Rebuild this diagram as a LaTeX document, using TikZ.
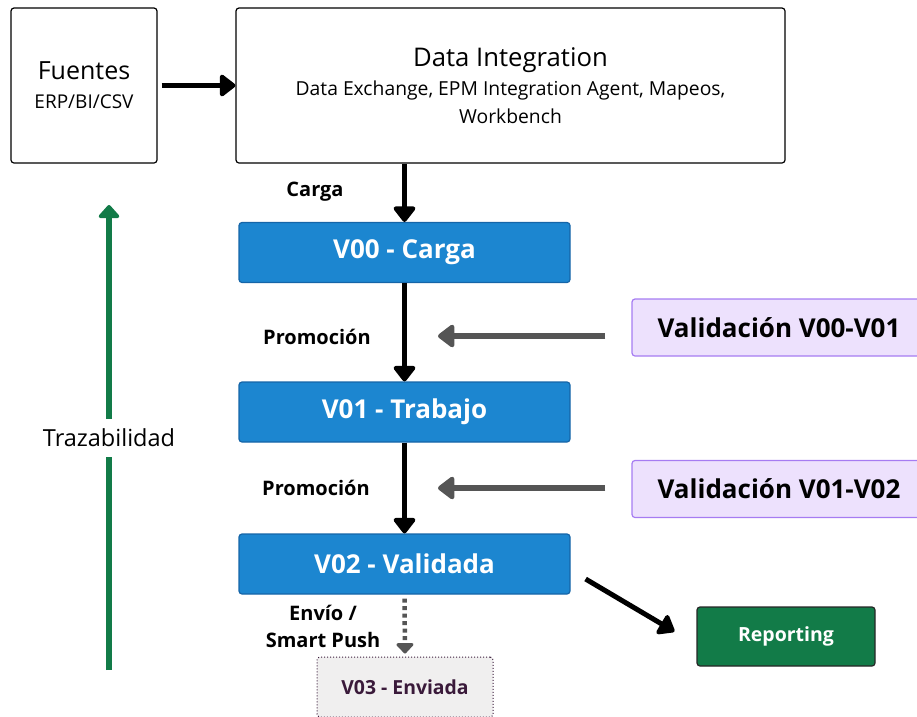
\documentclass[tikz,border=0pt]{standalone}
\usepackage{fontspec}
\setmainfont{Open Sans}
\usetikzlibrary{arrows.meta}

\definecolor{verblue}{HTML}{1C86D0}
\definecolor{verblueline}{HTML}{1565A8}
\definecolor{vallila}{HTML}{EDE1FD}
\definecolor{vallilaline}{HTML}{A67CF2}
\definecolor{repgreen}{HTML}{127B48}
\definecolor{arrgray}{HTML}{555555}
\definecolor{sentfill}{HTML}{F0EFEF}
\definecolor{sentline}{HTML}{3A1A3A}

\newcommand{\fsz}[1]{\fontsize{#1pt}{\fpeval{1.3*#1}pt}\selectfont}

\begin{document}
\begin{tikzpicture}[x=1pt,y=1pt,
        box/.style={draw,line width=1.2pt,rounded corners=3pt,align=center,inner sep=0pt},
        verbox/.style={box,fill=verblue,draw=verblueline,text=white,font=\fsz{26}\bfseries,
            minimum width=331pt,minimum height=60pt},
        valbox/.style={box,fill=vallila,draw=vallilaline,font=\fsz{26}\bfseries,
            minimum width=294pt,minimum height=57pt},
        flow/.style={line width=5pt,-{Triangle[round,length=17pt,width=25pt]}},
        back/.style={line width=6pt,draw=arrgray,-{Triangle[round,length=18pt,width=26pt]}},
        lbl/.style={font=\fsz{20}\bfseries,align=center}]

    \useasboundingbox (0,0) rectangle (917,-716);

    \node[box,minimum width=146pt,minimum height=155pt,font=\fontsize{19pt}{29pt}\selectfont] (fuentes) at (84,-85.5)
        {{\fsz{25}Fuentes}\\ERP/BI/CSV};
    \node[box,minimum width=549pt,minimum height=155pt,font=\fontsize{19.3pt}{27.5pt}\selectfont] (integ) at (510.5,-85.5)
        {{\fsz{25.7}Data Integration}\\[2pt]Data Exchange, EPM Integration Agent, Mapeos,\\Workbench};

    \node[verbox] (v00) at (404.5,-252.5) {V00 - Carga};
    \node[verbox] (v01) at (404.5,-412) {V01 - Trabajo};
    \node[verbox] (v02) at (404.5,-564) {V02 - Validada};

    \node[valbox] (val01) at (779,-327.5) {Validación V00-V01};
    \node[valbox] (val12) at (779,-489) {Validación V01-V02};

    \node[box,fill=repgreen,draw=black!85,text=white,font=\fsz{19.5}\bfseries,
        minimum width=178pt,minimum height=59pt] (report) at (786,-636.5) {Reporting};
    \node[box,fill=sentfill,draw=sentline,line width=1pt,dotted,text=sentline,font=\fsz{19.4}\bfseries,
        minimum width=176pt,minimum height=60pt] (sent) at (405,-687) {V03 - Enviada};

    \coordinate (tr0) at (109,-670);
    \coordinate (tr1) at (109,-205);
    \coordinate (g01) at (438,-336);
    \coordinate (g12) at (438,-488);

    \draw[flow] (fuentes.east) ++(4,0) -- (integ.west);
    \draw[flow] (integ.south -| v00) -- (v00.north);
    \draw[flow] (v00) -- (v01.north);
    \draw[flow] (v01) -- (v02.north);
    \draw[flow] ([shift={(15,-15)}]v02.east) -- ([shift={(-22,5)}]report.west);
    \draw[back] ([xshift=-26pt]val01.west |- g01) -- (g01);
    \draw[back] ([xshift=-26pt]val12.west |- g12) -- (g12);
    \draw[line width=4.5pt,draw=arrgray,dash pattern=on 4pt off 3.5pt,
        -{Triangle[round,length=11pt,width=20pt]}] ([yshift=-4pt]v02.south) -- ([yshift=3pt]sent.north);

    \node[lbl] (lcarga) at (315,-192) {Carga};
    \node[lbl] (lprom1) at (317,-337) {Promoción};
    \node[lbl] (lprom2) at (316,-488) {Promoción};
    \node[lbl,font=\fontsize{20pt}{27pt}\selectfont\bfseries] (lpush) at (323,-626) {Envío /\\Smart Push};

    \draw[line width=6pt,draw=repgreen,-{Triangle[round,length=14pt,width=24pt]}] (tr0) -- (tr1);
    \node[fill=white,font=\fsz{23.5},inner xsep=2pt,minimum height=38pt] (traza) at (109,-438) {Trazabilidad};
\end{tikzpicture}
\end{document}
